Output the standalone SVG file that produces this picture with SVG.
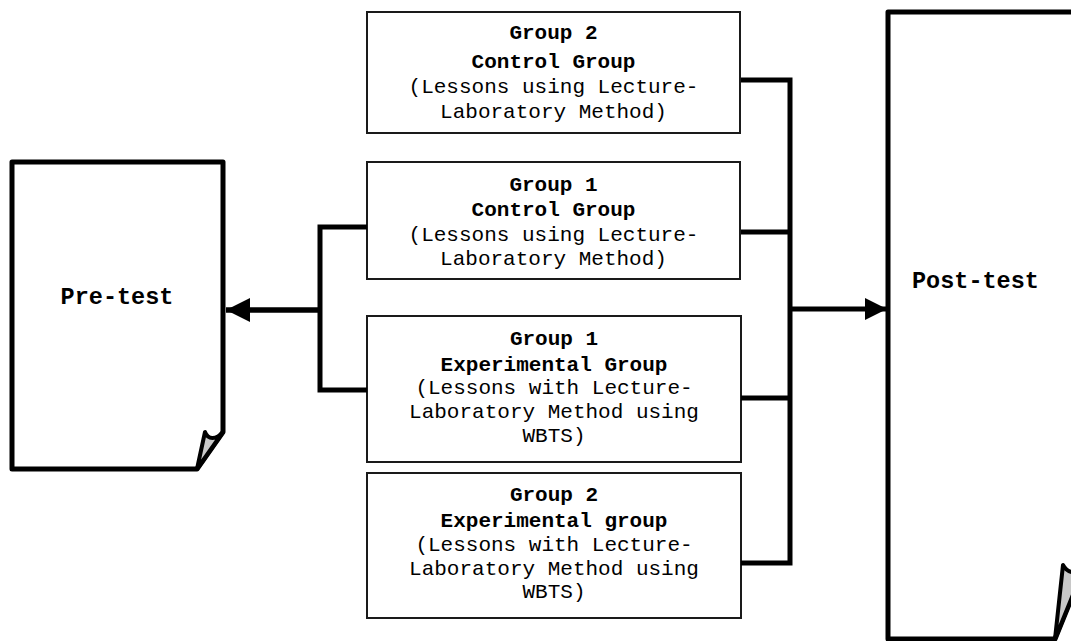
<svg xmlns="http://www.w3.org/2000/svg" width="1071" height="641" viewBox="0 0 1071 641">
<style>
.doc{fill:#fff;stroke:#000;stroke-width:5;stroke-linejoin:round}
.flap{fill:#c8c8c8;stroke:#000;stroke-width:4;stroke-linejoin:round}
.box{fill:#fff;stroke:#1a1a1a;stroke-width:2}
.t{font-family:"Liberation Mono","Courier New",monospace;font-size:21px;text-anchor:middle;fill:#000}
.b{font-weight:bold}
.dt{font-family:"Liberation Mono","Courier New",monospace;font-size:23.5px;font-weight:bold;fill:#000}
.c{fill:none;stroke:#000;stroke-width:5;stroke-linejoin:miter}
</style>
<defs>
<marker id="ah" viewBox="0 0 10 10" refX="10" refY="5" markerWidth="4.4" markerHeight="4.4" markerUnits="strokeWidth" orient="auto">
<path d="M0,0 L10,5 L0,10 Z" fill="#000"/>
</marker>
</defs>
<g id="pretest">
<path class="doc" d="M12,162 L223,162 L223,432 L197,469 L12,469 Z"/>
<path class="flap" d="M223,432 C216,440 208,440 205,432 L197,469 Z"/>
<text class="dt" x="117" y="304" text-anchor="middle">Pre-test</text>
</g>
<g id="posttest">
<path class="doc" d="M888,12 L1085,12 L1085,565 L1055,639 L888,639 Z"/>
<path class="flap" d="M1085,565 C1078,575 1068,574 1063,565 L1055,639 Z"/>
<text class="dt" x="912" y="288">Post-test</text>
</g>
<g id="g2control">
<rect class="box" x="367" y="12" width="373" height="121"/>
<text class="t b" x="553.5" y="39">Group 2</text>
<text class="t b" x="553.5" y="68">Control Group</text>
<text class="t" x="553.5" y="93">(Lessons using Lecture-</text>
<text class="t" x="553.5" y="118">Laboratory Method)</text>
</g>
<g id="g1control">
<rect class="box" x="367" y="162" width="373" height="117"/>
<text class="t b" x="553.5" y="191">Group 1</text>
<text class="t b" x="553.5" y="216">Control Group</text>
<text class="t" x="553.5" y="241">(Lessons using Lecture-</text>
<text class="t" x="553.5" y="265">Laboratory Method)</text>
</g>
<g id="g1exp">
<rect class="box" x="367" y="316" width="374" height="146"/>
<text class="t b" x="554" y="345">Group 1</text>
<text class="t b" x="554" y="371">Experimental Group</text>
<text class="t" x="554" y="394">(Lessons with Lecture-</text>
<text class="t" x="554" y="418">Laboratory Method using</text>
<text class="t" x="554" y="442">WBTS)</text>
</g>
<g id="g2exp">
<rect class="box" x="367" y="473" width="374" height="145"/>
<text class="t b" x="554" y="501">Group 2</text>
<text class="t b" x="554" y="527">Experimental group</text>
<text class="t" x="554" y="551">(Lessons with Lecture-</text>
<text class="t" x="554" y="575">Laboratory Method using</text>
<text class="t" x="554" y="598">WBTS)</text>
</g>
<g id="connectors">
<path class="c" d="M367,227 L320,227 L320,390 L367,390"/>
<line x1="320" y1="310" x2="226" y2="310" stroke="#000" stroke-width="5.5" marker-end="url(#ah)"/>
<path class="c" d="M741,80 L790,80 L790,563 L741,563"/>
<line class="c" x1="741" y1="232" x2="790" y2="232"/>
<line class="c" x1="741" y1="398" x2="790" y2="398"/>
<line x1="790" y1="309" x2="887" y2="309" stroke="#000" stroke-width="5" marker-end="url(#ah)"/>
</g>
</svg>
